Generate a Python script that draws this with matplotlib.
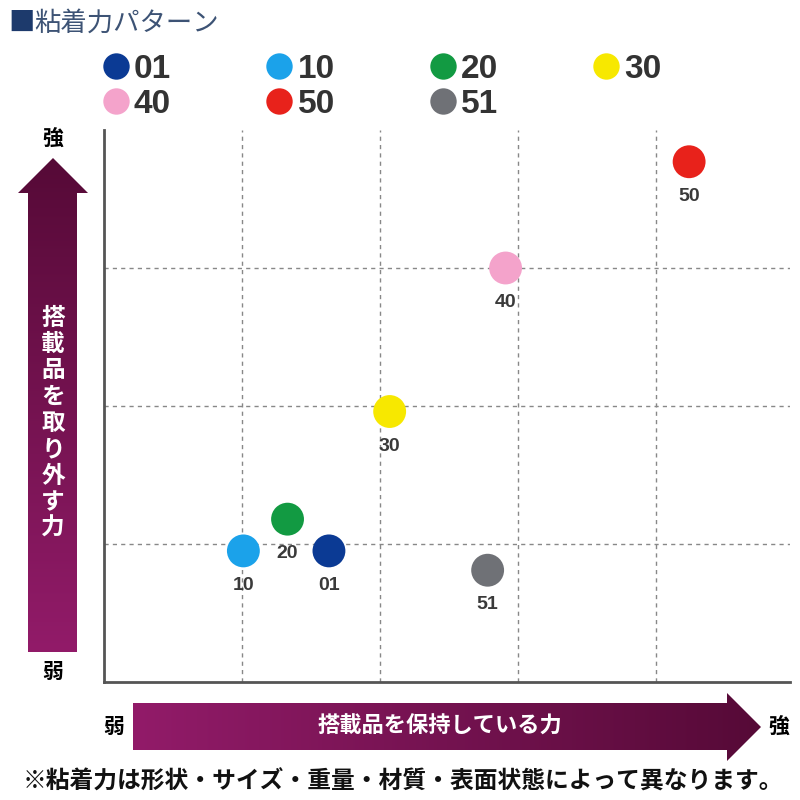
import numpy as np
import matplotlib.pyplot as plt
from matplotlib.patches import Polygon
from matplotlib.lines import Line2D
from matplotlib.colors import LinearSegmentedColormap

plt.rcParams['font.family'] = ['Noto Sans CJK JP', 'DejaVu Sans']

# pattern data (relative units, grid step = 1)
labels = ['01', '10', '20', '30', '40', '50', '51']
hold_force = [1.63, 1.01, 1.33, 2.07, 2.91, 4.24, 2.78]    # x: 搭載品を保持している力
remove_force = [0.95, 0.95, 1.18, 1.96, 3.00, 3.77, 0.81]  # y: 搭載品を取り外す力
colors = ['#0b3a94', '#1ba2ea', '#129a42', '#f7e800', '#f4a3cb', '#e8221b', '#6f7176']

title = '■粘着力パターン'
x_label = '搭載品を保持している力'
y_label = '搭載品を取り外す力'
note = '※粘着力は形状・サイズ・重量・材質・表面状態によって異なります。'

W = H = 800
fig = plt.figure(figsize=(8, 8), dpi=100)

# main axes (pixel box: left 104, right 790, top 130, bottom 682)
ax = fig.add_axes([104 / W, 1 - 682 / H, 686 / W, 552 / H])
ax.set_xlim(0, 686 / 138)
ax.set_ylim(0, 552 / 138)
for s in ['top', 'right']:
    ax.spines[s].set_visible(False)
for s in ['left', 'bottom']:
    ax.spines[s].set_color('#555555')
    ax.spines[s].set_linewidth(2)
ax.set_xticks([1, 2, 3, 4])
ax.set_yticks([1, 2, 3])
ax.tick_params(length=0, labelbottom=False, labelleft=False)
ax.grid(True, color='#888888', linestyle=(0, (3, 3)), linewidth=1)

ax.scatter(hold_force, remove_force, s=560, c=colors, zorder=3, linewidths=0)
for x, y, lab in zip(hold_force, remove_force, labels):
    ax.annotate(lab, (x, y), xytext=(0, -25), textcoords='offset points',
                ha='center', va='center', fontsize=14, fontweight='bold',
                color='#3a3a3a', family='Liberation Sans', zorder=4)

# legend, ordered so it fills row by row
order = [0, 4, 1, 5, 2, 6, 3]
handles = [Line2D([], [], marker='o', linestyle='none', markersize=19,
                  markerfacecolor=colors[i], markeredgewidth=0) for i in order]
fig.legend(handles, [labels[i] for i in order], ncol=4, loc='upper left',
           bbox_to_anchor=(99 / W, 1 - 54 / H), frameon=False,
           prop={'family': 'Liberation Sans', 'size': 24, 'weight': 'bold'},
           handletextpad=0.05, columnspacing=2.74, labelspacing=0.12,
           handlelength=1.0, labelcolor='#333333', borderaxespad=0,
           borderpad=0)

# overlay in pixel coordinates for arrows and texts
ov = fig.add_axes([0, 0, 1, 1], zorder=-1)
ov.set_xlim(0, W)
ov.set_ylim(H, 0)
ov.axis('off')

cmap = LinearSegmentedColormap.from_list('arrow', ['#560a37', '#921b69'])
grad = np.linspace(0, 1, 256)


def grad_arrow(poly, extent, vertical):
    patch = Polygon(poly, closed=True, facecolor='none', edgecolor='none')
    ov.add_patch(patch)
    img = grad[:, None] if vertical else grad[None, :][:, ::-1]
    im = ov.imshow(img, cmap=cmap, extent=extent, aspect='auto',
                   interpolation='bicubic')
    im.set_clip_path(patch)


# vertical arrow
grad_arrow([(28, 652), (28, 193), (18, 193), (53, 158), (88, 193),
            (77, 193), (77, 652)], (18, 88, 652, 158), True)
# horizontal arrow
grad_arrow([(133, 703), (727, 703), (727, 693), (761, 727), (727, 761),
            (727, 750), (133, 750)], (133, 761, 761, 693), False)
ov.set_xlim(0, W)
ov.set_ylim(H, 0)

ov.text(53, 138, '強', ha='center', va='center', fontsize=15, fontweight='bold')
ov.text(53, 671, '弱', ha='center', va='center', fontsize=15, fontweight='bold')
ov.text(114, 726, '弱', ha='center', va='center', fontsize=15, fontweight='bold')
ov.text(779, 726, '強', ha='center', va='center', fontsize=15, fontweight='bold')

ov.text(440, 726, x_label, ha='center', va='center', fontsize=16,
        color='white', fontweight='bold')
ov.text(53, 423, '\n'.join(y_label), ha='center', va='center', fontsize=17,
        color='white', fontweight='bold', linespacing=1.12)

ov.text(8, 23, title[0], ha='left', va='center', fontsize=19, color='#1d3a6c')
ov.text(34, 23, title[1:], ha='left', va='center', fontsize=19, color='#3d5375')
ov.text(403, 782, note, ha='center', va='center', fontsize=17.1,
        fontweight='bold', color='#111111')

fig.savefig('out.png', dpi=100)
